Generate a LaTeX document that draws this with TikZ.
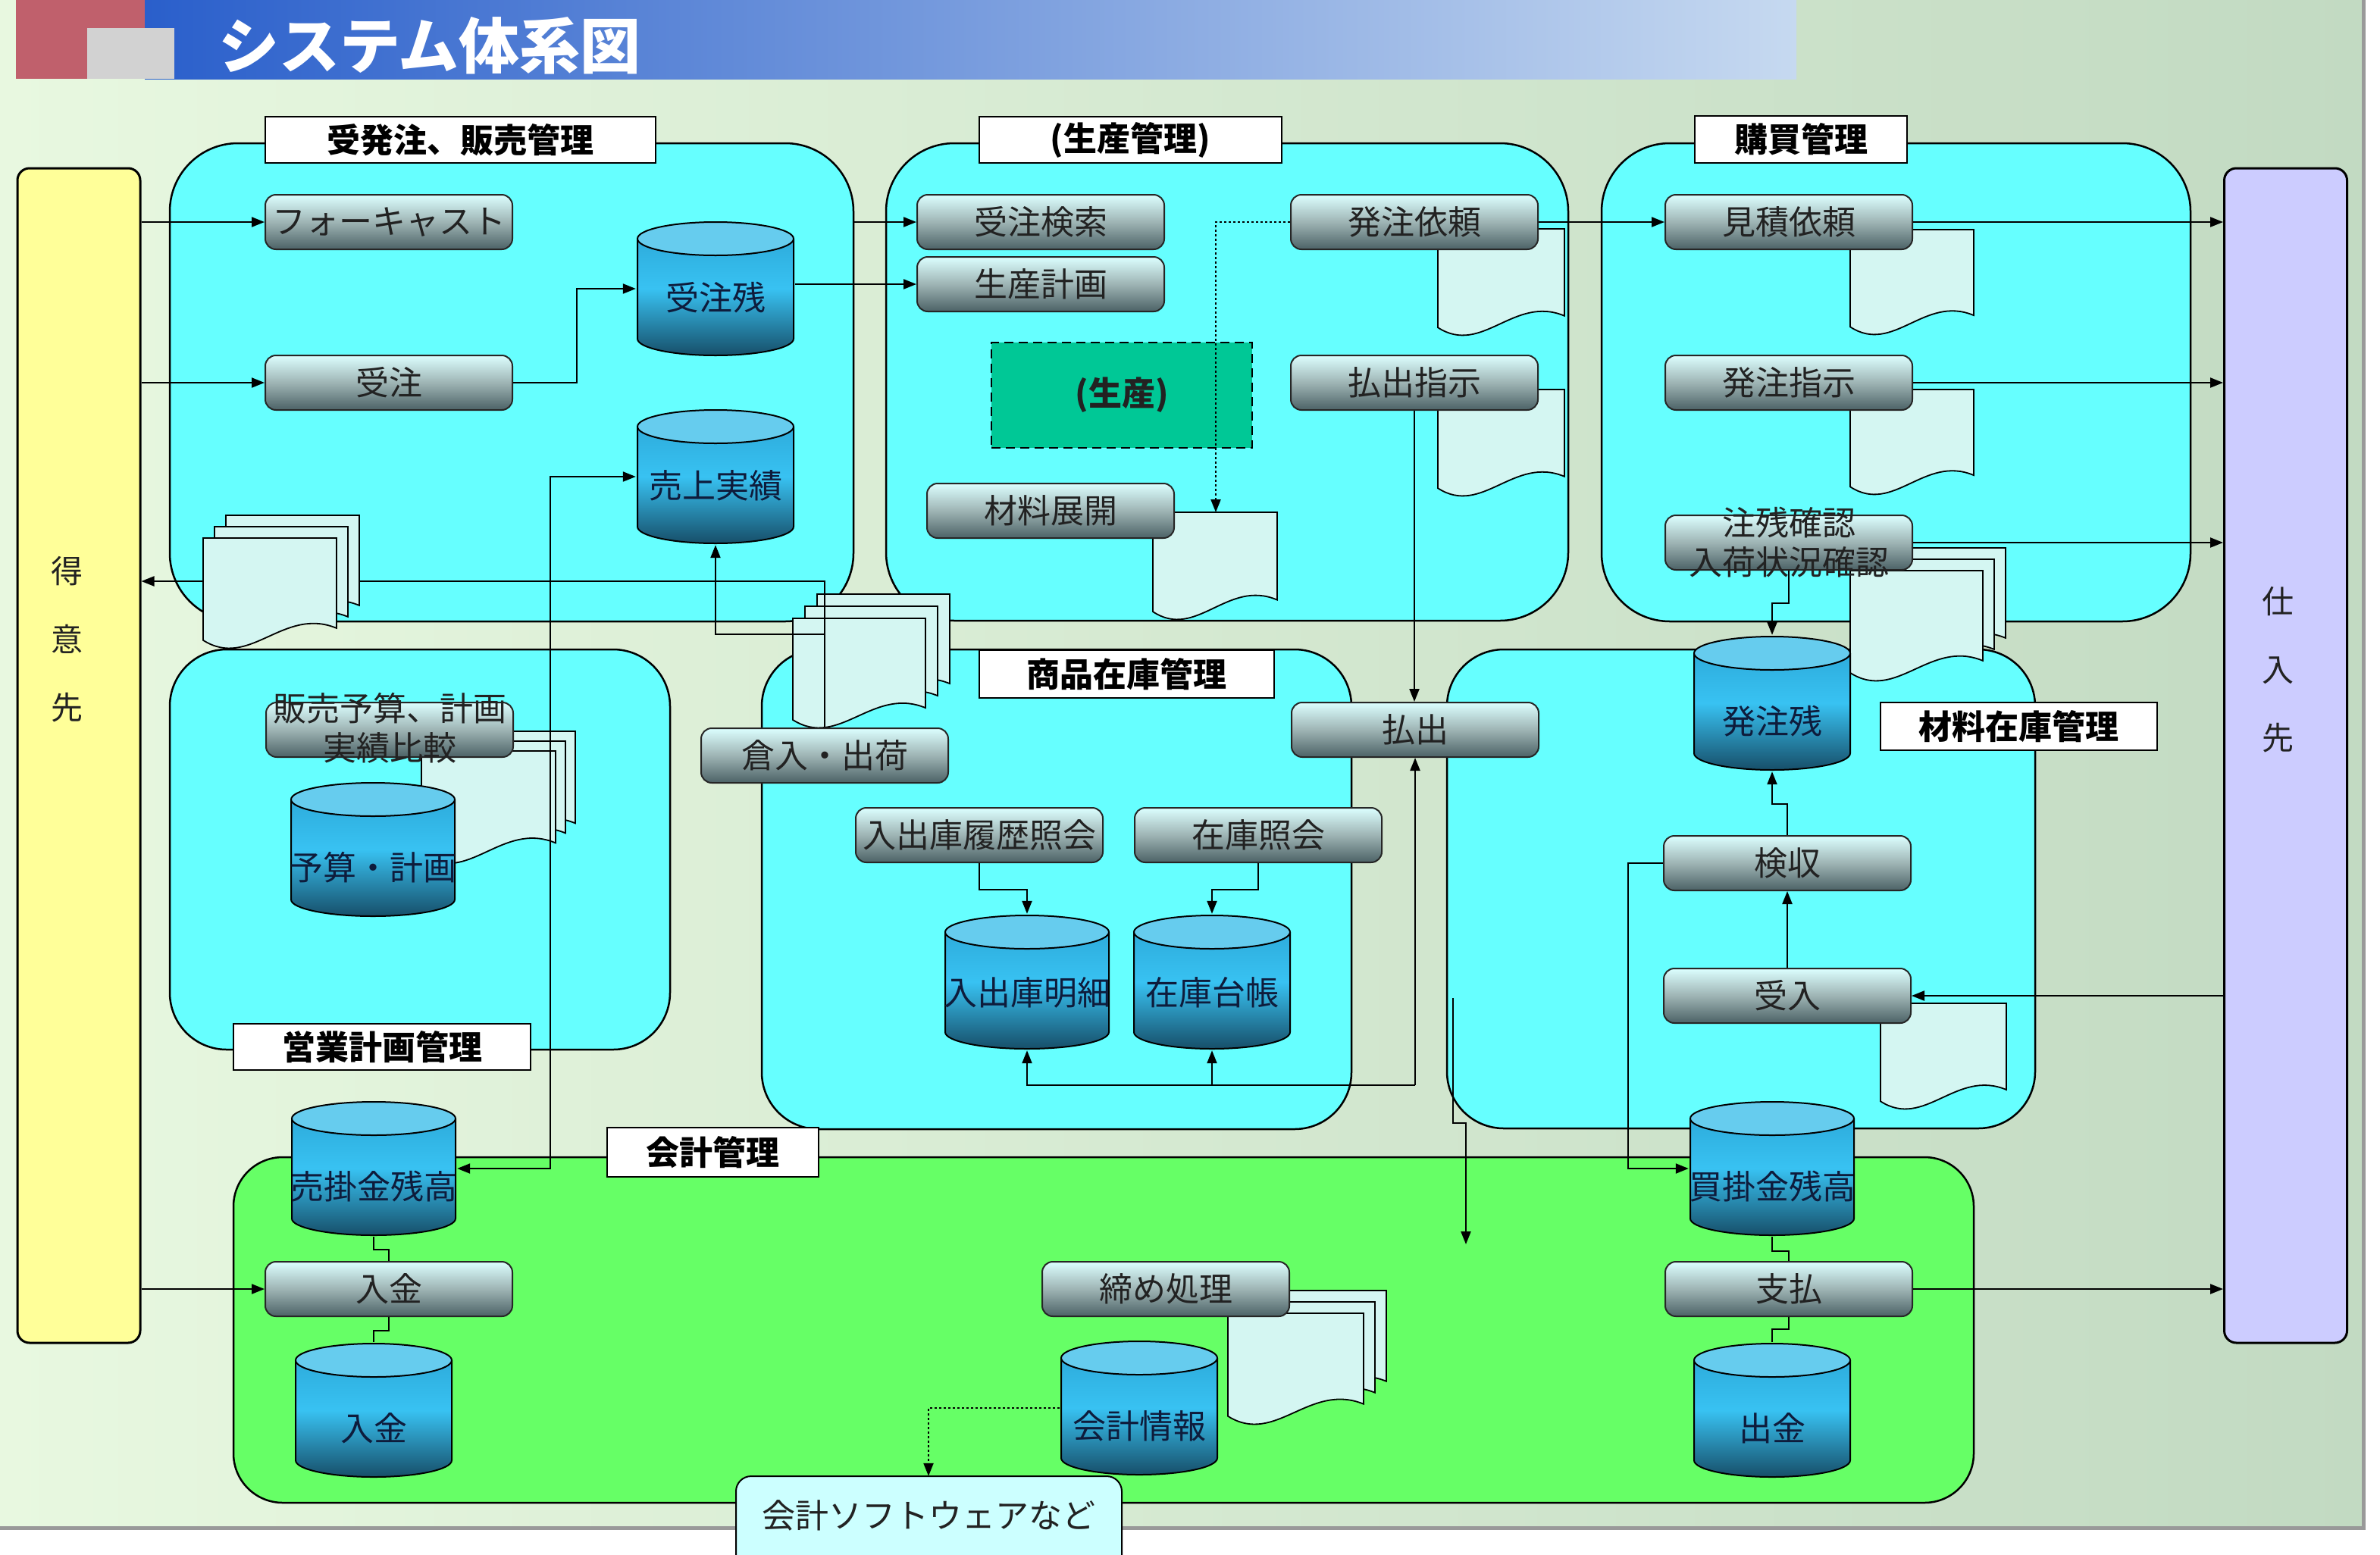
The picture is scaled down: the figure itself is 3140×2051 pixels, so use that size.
\documentclass[tikz,border=0pt]{standalone}
\usepackage{fontspec}
\setmainfont{Noto Sans CJK JP}
\usetikzlibrary{arrows.meta,calc,positioning}

\definecolor{bgleft}{HTML}{E8F8E0}
\definecolor{bgright}{HTML}{C2DAC2}
\definecolor{barleft}{HTML}{2A5FCB}
\definecolor{barright}{HTML}{C6D9F0}
\definecolor{barred}{HTML}{C0606C}
\definecolor{bargray}{HTML}{D2D2D2}
\definecolor{grpcyan}{HTML}{66FFFF}
\definecolor{grpgreen}{HTML}{66FF66}
\definecolor{tokuifill}{HTML}{FFFF99}
\definecolor{shiirefill}{HTML}{CCCCFF}
\definecolor{seisanfill}{HTML}{00C896}
\definecolor{softfill}{HTML}{CCFFFF}
\definecolor{docfill}{HTML}{D4F6F2}
\definecolor{proctop}{HTML}{DCFFFF}
\definecolor{procmid}{HTML}{9EB4B4}
\definecolor{procbot}{HTML}{4C6266}
\definecolor{dbcap}{HTML}{66CCEE}
\definecolor{dbtop}{HTML}{2AA4D4}
\definecolor{dbmid}{HTML}{38C2F2}
\definecolor{dbbot}{HTML}{164C66}
\definecolor{dbtext}{HTML}{0E1C3C}
\definecolor{inktext}{HTML}{222222}

\newcommand\lblfont{\fontsize{44pt}{52pt}\selectfont}
\newcommand\dbtxt[2][-28pt]{\raisebox{#1}[32pt][8pt]{#2}}

% document shapes
\newcommand\docat[4]{% x, y, width, height
  \filldraw[docsh] (#1,#2) -- (#1+#3,#2) -- (#1+#3,#2+0.82*#4)
    .. controls (#1+0.6*#3,#2+0.62*#4) and (#1+0.35*#3,#2+1.2*#4) .. (#1,#2+0.93*#4) -- cycle;}
\newcommand\docstack[5]{% three documents, offset #5
  \docat{#1+2*#5}{#2-2*#5}{#3}{#4}
  \docat{#1+#5}{#2-#5}{#3}{#4}
  \docat{#1}{#2}{#3}{#4}}

\tikzset{
    >={Triangle[length=17pt,width=13pt]},
    grp/.style={draw=black, line width=2.5pt, fill=grpcyan, inner sep=0pt, rounded corners=#1},
    grp/.default=90pt,
    grplabel/.style={draw=black, line width=2pt, fill=white, inner sep=0pt,
        font=\lblfont\bfseries, text=black},
    titletext/.style={font=\fontsize{80pt}{90pt}\selectfont\bfseries, text=white, inner sep=0pt},
    party/.style={draw=black, line width=3pt, rounded corners=16pt, inner sep=0pt,
        minimum width=162pt, minimum height=1550pt},
    partytext/.style={font=\fontsize{42pt}{90pt}\selectfont, text=inktext, align=center, inner sep=0pt},
    proc/.style={draw=black!85, line width=2pt, rounded corners=14pt,
        top color=proctop, bottom color=procbot, middle color=procmid,
        minimum width=326pt, minimum height=72pt, inner sep=0pt, font=\lblfont, text=inktext},
    proctext/.style={font=\lblfont, text=inktext, align=center, inner sep=0pt},
    seisanbox/.style={draw=black, line width=2pt, dash pattern=on 12pt off 7pt, fill=seisanfill,
        minimum width=344pt, minimum height=139pt, font=\lblfont\bfseries, text=inktext},
    softbox/.style={minimum width=510pt, minimum height=103pt, inner sep=0pt,
        font=\lblfont, text=inktext},
    db/.style={minimum width=210pt, minimum height=180pt, inner sep=0pt, font=\lblfont, text=dbtext,
        path picture={
            \path[top color=dbtop, bottom color=dbbot, middle color=dbmid]
                let \p1=(path picture bounding box.south west), \p2=(path picture bounding box.north east),
                    \n1={(\x2-\x1)/2-2pt} in
                (\x1+2pt,\y2-24pt) -- (\x1+2pt,\y1+24pt)
                arc[start angle=180, end angle=360, x radius={\n1*1pt}, y radius=22pt]
                -- (\x2-2pt,\y2-24pt) -- cycle;
            \draw[line width=2pt]
                let \p1=(path picture bounding box.south west), \p2=(path picture bounding box.north east),
                    \n1={(\x2-\x1)/2-2pt} in
                (\x1+2pt,\y2-24pt) -- (\x1+2pt,\y1+24pt)
                arc[start angle=180, end angle=360, x radius={\n1*1pt}, y radius=22pt]
                -- (\x2-2pt,\y2-24pt);
            \filldraw[fill=dbcap, line width=2pt]
                let \p1=(path picture bounding box.south west), \p2=(path picture bounding box.north east),
                    \n1={(\x2-\x1)/2-2pt} in
                ({(\x1+\x2)/2},\y2-24pt) ellipse[x radius={\n1*1pt}, y radius=22pt];
        }},
    docsh/.style={draw=black, line width=1.8pt, fill=docfill},
    flow/.style={draw=black, line width=2.2pt, ->},
    twoway/.style={draw=black, line width=2.2pt, <->},
    dotflow/.style={flow, dash pattern=on 3pt off 3pt},
    link/.style={draw=black, line width=2.2pt}
}

\begin{document}
\begin{tikzpicture}[x=1pt, y=-1pt]
\useasboundingbox (0,0) rectangle (3140,2051);

% background and title
\shade[left color=bgleft, right color=bgright] (0,0) rectangle (3120,2015);
\draw[line width=5pt, black!40] (3118,0) -- (3118,2016) -- (0,2016);
\fill[left color=barleft, right color=barright] (191,0) rectangle (2370,104);
\fill[barred] (21,0) rectangle (191,104);
\fill[bargray] (115,37) rectangle (230,104);
\node[titletext, anchor=west] (title) at (288,60) {システム体系図};

% areas
\node[grp, minimum width=902pt, minimum height=631pt] (gjuchu) at (675,504.5) {};
\node[grp, minimum width=900pt, minimum height=630pt] (gseisan) at (1619,504) {};
\node[grp, minimum width=777pt, minimum height=631pt] (gkobai) at (2501.5,504.5) {};
\node[grp=75pt, minimum width=660pt, minimum height=528pt] (geigyo) at (554,1121) {};
\node[grp=75pt, minimum width=778pt, minimum height=633pt] (gshohin) at (1394,1173.5) {};
\node[grp=75pt, minimum width=776pt, minimum height=632pt] (gzairyo) at (2297,1173) {};
\node[grp=65pt, fill=grpgreen, minimum width=2296pt, minimum height=456pt] (gkaikei) at (1456,1755) {};

\node[grplabel, minimum width=515pt, minimum height=61pt] (ljuchu) at (607.5,184.5) {受発注、販売管理};
\node[grplabel, minimum width=399pt, minimum height=61pt] (lseisan) at (1491.5,184.5) {(生産管理)};
\node[grplabel, minimum width=280pt, minimum height=62pt] (lkobai) at (2376,184) {購買管理};
\node[grplabel, minimum width=392pt, minimum height=61pt] (leigyo) at (504,1381.5) {営業計画管理};
\node[grplabel, minimum width=389pt, minimum height=63pt] (lshohin) at (1486.5,889.5) {商品在庫管理};
\node[grplabel, minimum width=365pt, minimum height=63pt] (lzairyo) at (2663.5,958.5) {材料在庫管理};
\node[grplabel, minimum width=279pt, minimum height=65pt] (lkaikei) at (940.5,1520.5) {会計管理};

% customer and supplier
\node[party, fill=tokuifill] (tokui) at (104,997) {};
\node[partytext] (tokuitxt) at (88,844) {得\\意\\先};
\node[party, fill=shiirefill] (shiire) at (3015.5,997) {};
\node[partytext] (shiiretxt) at (3005,884) {仕\\入\\先};

\node[seisanbox] (seisan) at (1480,521) {(生産)};

% documents
\docat{1897}{302}{167}{140}
\docat{1897}{514}{167}{140}
\docat{1521}{676}{164}{141}
\docat{2441}{303}{163}{138}
\docat{2441}{514}{163}{138}
\docat{2481}{1324}{166}{139}
\docstack{556}{991}{177}{148}{13}
\docstack{1046}{816}{175}{144}{16}
\docstack{2441}{753}{175}{145}{15}
\docstack{1620}{1733}{179}{146}{15}

% processes
\node[proc] (fcast) at (513,293) {フォーキャスト};
\node[proc] (juchu) at (513,505) {受注};
\node[proc] (jkensaku) at (1373,293) {受注検索};
\node[proc] (keikaku) at (1373,375) {生産計画};
\node[proc] (hirai) at (1866,293) {発注依頼};
\node[proc] (hshiji) at (1866,505) {払出指示};
\node[proc] (tenkai) at (1386,674) {材料展開};
\node[proc] (mitsu) at (2360,293) {見積依頼};
\node[proc] (hchushiji) at (2360,505) {発注指示};
\node[proc] (chuzan) at (2360,716) {};
\node[proctext] (chuzantxt) at (chuzan) {注残確認\\入荷状況確認};
\node[proc] (yosan) at (514,963) {};
\node[proctext] (yosantxt) at (514,961) {販売予算、計画\\実績比較};
\node[proc] (souko) at (1088,997) {倉入・出荷};
\node[proc] (harai) at (1867,963) {払出};
\node[proc] (rireki) at (1292,1102) {入出庫履歴照会};
\node[proc] (zshokai) at (1660,1102) {在庫照会};
\node[proc] (kenshu) at (2358,1139) {検収};
\node[proc] (ukeire) at (2358,1314) {受入};
\node[proc] (nyukin) at (513,1701) {入金};
\node[proc] (shime) at (1538,1701) {締め処理};
\node[proc] (shiharai) at (2360,1701) {支払};

% databases
\node[db] (jzan) at (944,381) {\dbtxt[-16pt]{受注残}};
\node[db] (uriage) at (944,629) {\dbtxt[-16pt]{売上実績}};
\node[db] (ykeikaku) at (492,1121) {\dbtxt{予算・計画}};
\node[db] (meisai) at (1355,1296) {\dbtxt[-18pt]{入出庫明細}};
\node[db] (daicho) at (1599,1296) {\dbtxt[-18pt]{在庫台帳}};
\node[db] (hzan) at (2338,928) {\dbtxt{発注残}};
\node[db] (urikake) at (493,1542) {\dbtxt{売掛金残高}};
\node[db] (nyukindb) at (493,1861) {\dbtxt{入金}};
\node[db] (kaikei) at (1503,1858) {\dbtxt{会計情報}};
\node[db] (kaikake) at (2338,1542) {\dbtxt{買掛金残高}};
\node[db] (shukkin) at (2338,1861) {\dbtxt{出金}};

% accounting software
\filldraw[fill=softfill, line width=2pt, rounded corners=20pt] (971,2075) -- (971,1948) -- (1480,1948) -- (1480,2075);
\node[softbox] (soft) at (1225,1999.5) {会計ソフトウェアなど};

% flows
\draw[flow] (tokui.east |- fcast) -- (fcast);
\draw[flow] (tokui.east |- juchu) -- (juchu);
\draw[flow] (tokui.east |- nyukin) -- (nyukin);
\draw[flow] (juchu.east) -- ++(84,0) |- (jzan.west);
\draw[flow] (gjuchu.east |- jkensaku) -- (jkensaku);
\draw[flow] (jzan.east |- keikaku) -- (keikaku);
\draw[flow] (hirai) -- (mitsu);
\draw[flow] (mitsu) -- (mitsu -| shiire.west);
\draw[flow] (hchushiji) -- (hchushiji -| shiire.west);
\draw[flow] (chuzan) -- (chuzan -| shiire.west);
\draw[flow] (shiharai) -- (shiharai -| shiire.west);
\draw[flow] (shiire.west |- ukeire) -- (ukeire);

\coordinate (dtenkai) at (1604,676);
\draw[dotflow] (hirai.west) -| (dtenkai);
\draw[flow] (hshiji.south) -- (hshiji.south |- harai.north);
\coordinate (zbus) at (1867,1432);
\draw[flow] (zbus) -- (harai.south);
\draw[flow] (zbus) -| (meisai.south);
\draw[flow] (daicho.south |- zbus) -- (daicho.south);
\draw[flow] (rireki.south) -- ++(0,35) -| (meisai.north);
\draw[flow] (zshokai.south) -- ++(0,35) -| (daicho.north);

\draw[flow] (ukeire) -- (kenshu);
\draw[flow] (kenshu.north) -- ++(0,-41) -| (hzan.south);
\draw[flow] (chuzan.south) -- ++(0,43) -| (hzan.north);
\draw[flow] (kenshu.west) -- ++(-46,0) |- (kaikake.west);
\coordinate (kfrom) at (1917,1317);
\coordinate (kto) at (1934,1642);
\draw[flow] (kfrom) -- ++(0,165) -| (kto);

\draw[twoway] (urikake.east) -- ++(123,0) |- (uriage.west);
\draw[flow] (souko.north) -- ++(0,-123) -| (uriage.south);
\draw[flow] (souko.north) -- ++(0,-193) coordinate (sbend) -- (sbend -| tokui.east);

\draw[link] (urikake.south) -- ++(0,17) -| (nyukin.north);
\draw[link] (nyukin.south) -- ++(0,18) -| (nyukindb.north);
\draw[link] (kaikake.south) -- ++(0,19) -| (shiharai.north);
\draw[link] (shiharai.south) -- ++(0,16) -| (shukkin.north);
\draw[dotflow] (kaikei.west) -| (soft.north);

% slips sent to the customer
\docstack{268}{710}{176}{145}{15}
\end{tikzpicture}
\end{document}
